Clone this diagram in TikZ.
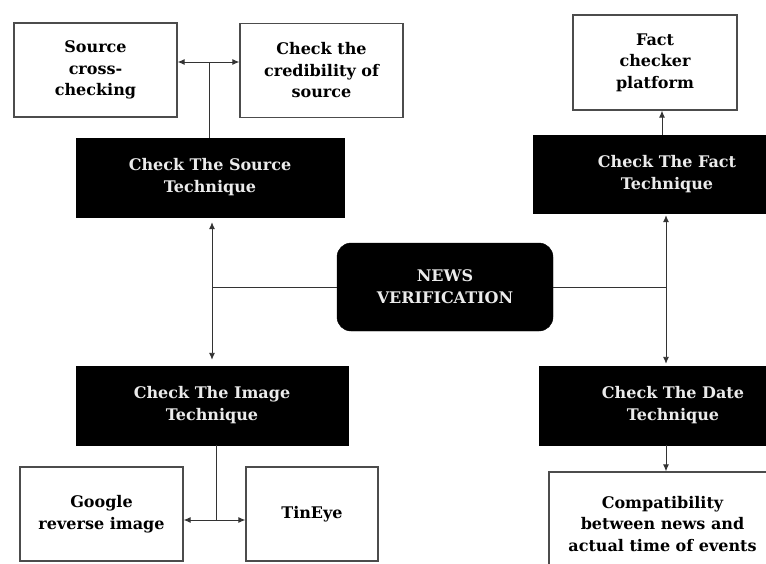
\documentclass[tikz,border=0pt]{standalone}
\usepackage{fontspec}
\setmainfont{DejaVu Serif}
\usepackage{tikz}
\usetikzlibrary{arrows,arrows.meta,positioning}
\tikzset{
	whitebox/.style={draw=black!70,line width=1.3pt,fill=white,align=center,inner sep=2pt,
		font=\fontsize{16}{21.5}\selectfont\bfseries},
	blackbox/.style={draw=black,fill=black,text=white!92!black,align=center,inner sep=2pt,
		font=\fontsize{16}{22}\selectfont\bfseries},
	newsbox/.style={blackbox,rounded corners=14pt},
	link/.style={draw=black!80,line width=0.9pt},
	>={Latex[length=7pt,width=6pt]}
}

\begin{document}
\begin{tikzpicture}[x=1pt,y=-1pt]
	\useasboundingbox (0,0) rectangle (766,563);
	\clip (0,0) rectangle (766,563);
	% centre
	\node[newsbox,minimum width=216,minimum height=88] (news) at (445,287) {NEWS\\VERIFICATION};
	% the four techniques
	\node[blackbox,minimum width=268,minimum height=79] (srctech) at (210,177.5) {Check The Source\\Technique};
	\node[blackbox,minimum width=268,minimum height=78] (facttech) at (667,174) {Check The Fact\\Technique};
	\node[blackbox,minimum width=272,minimum height=79] (imgtech) at (212,405.5) {Check The Image\\Technique};
	\node[blackbox,minimum width=268,minimum height=79] (datetech) at (673,405.5) {Check The Date\\Technique};
	% what each technique uses
	\node[whitebox,minimum width=163,minimum height=94] (cross) at (95.5,70) {Source\\cross-\\checking};
	\node[whitebox,minimum width=163,minimum height=94] (cred) at (321.5,70.5) {Check the\\credibility of\\source};
	\node[whitebox,minimum width=164,minimum height=95] (fact) at (655,62.5) {Fact\\checker\\platform};
	\node[whitebox,minimum width=163,minimum height=94] (google) at (101.5,514) {Google\\reverse image};
	\node[whitebox,minimum width=132,minimum height=94] (tineye) at (312,514) {TinEye};
	\node[whitebox,minimum width=227,minimum height=104] (compat) at (662.5,524) {Compatibility\\between news and\\actual time of events};
	% join points
	\coordinate (srcjoin) at (209,62);
	\coordinate (leftjoin) at (212,289);
	\coordinate (rightjoin) at (666,289);
	\coordinate (factjoin) at (662,0);
	\coordinate (imgjoin) at (216,520);
	% connectors
	\draw[link,<->] (cross.east |- srcjoin) -- (cred.west |- srcjoin);
	\draw[link] (srctech.north -| srcjoin) -- (srcjoin);
	\draw[link,<->,shorten <=5pt,shorten >=6pt] (srctech.south -| leftjoin) -- (imgtech.north -| leftjoin);
	\draw[link] (news.west) -- (news.west -| leftjoin);
	\draw[link] (news.east) -- (news.east -| rightjoin);
	\draw[link,<->,shorten <=2pt,shorten >=2pt] (facttech.south -| rightjoin) -- (datetech.north -| rightjoin);
	\draw[link,->] (facttech.north -| factjoin) -- (fact.south -| factjoin);
	\draw[link] (imgtech.south -| imgjoin) -- (imgjoin);
	\draw[link,<->] (google.east |- imgjoin) -- (tineye.west |- imgjoin);
	\draw[link,->] (datetech.south -| rightjoin) -- (compat.north -| rightjoin);
\end{tikzpicture}
\end{document}
